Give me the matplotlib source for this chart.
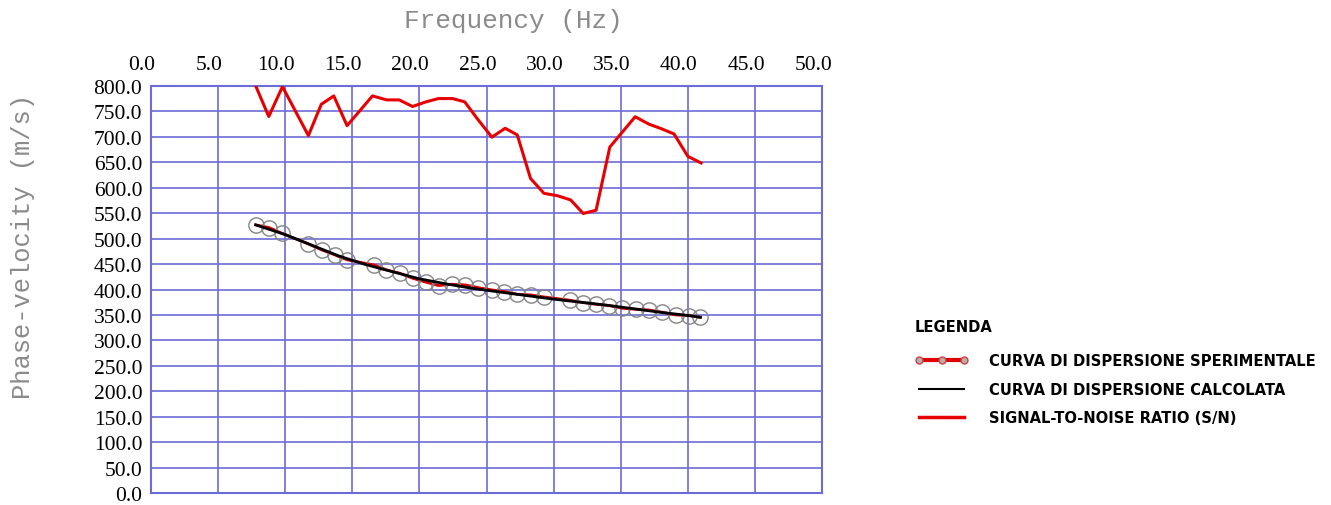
import matplotlib.pyplot as plt
import matplotlib.transforms as mtransforms
from matplotlib.lines import Line2D
import numpy as np

# experimental dispersion curve (Hz, m/s)
freq_exp = [7.82, 8.81, 9.75, 11.73, 12.72, 13.71, 14.63, 16.61, 17.55, 18.54,
            19.50, 20.49, 21.44, 22.43, 23.42, 24.36, 25.40, 26.34, 27.30, 28.29,
            29.28, 31.21, 32.20, 33.14, 34.13, 35.12, 36.11, 37.10, 38.09, 39.08,
            40.07, 40.92]
vel_exp = [527.0, 521.8, 510.7, 489.7, 477.9, 468.0, 458.2, 448.4, 438.5, 432.0,
           422.1, 414.3, 407.7, 410.3, 409.0, 403.8, 399.2, 395.9, 390.7, 389.4,
           385.4, 378.9, 374.3, 371.0, 368.4, 363.1, 361.2, 359.8, 355.3, 350.0,
           348.7, 345.4]

# computed dispersion curve
freq_calc = [7.82, 10.0, 12.0, 14.0, 16.0, 18.0, 20.0, 22.0, 24.0, 26.0,
             28.0, 30.0, 32.0, 34.0, 36.0, 38.0, 40.0, 40.92]
vel_calc = [527.0, 508.0, 487.0, 466.0, 449.0, 435.0, 421.0, 411.0, 402.0, 395.0,
            388.0, 381.0, 375.0, 369.0, 362.0, 355.0, 349.0, 345.4]

# signal-to-noise ratio, drawn on the velocity scale
freq_sn = [7.82, 8.79, 9.81, 11.74, 12.70, 13.63, 14.62, 16.51, 17.57, 18.50,
           19.50, 20.49, 21.42, 22.48, 23.38, 24.37, 25.40, 26.39, 27.29, 28.28,
           29.28, 30.27, 31.27, 32.20, 33.16, 34.18, 36.07, 37.07, 38.06, 38.96,
           39.99, 40.98]
sn_vals = [800.0, 740.0, 798.7, 702.6, 764.0, 780.5, 722.0, 780.5, 772.7, 772.7,
           759.7, 768.8, 775.3, 775.3, 768.8, 733.8, 699.4, 716.9, 703.9, 618.2,
           589.0, 584.4, 576.0, 549.4, 555.8, 679.9, 739.6, 725.3, 715.6, 705.8,
           661.7, 648.7]

x_ticks = np.arange(0, 50.1, 5.0)
y_ticks = np.arange(0, 800.1, 50.0)

grid_col = '#6c6cd8'
label_col = '#8a8a8a'

fig = plt.figure(figsize=(13.31, 5.06), dpi=100)
ax = fig.add_axes([150.7 / 1331, 12 / 506, 671.6 / 1331, 407 / 506])

ax.plot(freq_exp, vel_exp, color='#e00000', lw=2, zorder=3)
ax.plot(freq_exp, vel_exp, ls='none', marker='o', ms=11, mfc='none',
        mec='#858585', mew=1.0, zorder=4)
ax.plot(freq_calc, vel_calc, color='black', lw=2, zorder=5)
ax.plot(freq_sn, sn_vals, color='#e80000', lw=2.2, zorder=3)

ax.set_xlim(0, 50)
ax.set_ylim(0, 800)
ax.set_xticks(x_ticks)
ax.set_yticks(y_ticks)
ax.set_xticklabels([f'{v:.1f}' for v in x_ticks])
ax.set_yticklabels([f'{v:.1f}' for v in y_ticks])
ax.xaxis.tick_top()
ax.tick_params(length=0, labelsize=15.5, labelfontfamily='Liberation Serif')
ax.tick_params(axis='x', pad=9)
ax.tick_params(axis='y', pad=6)
ax.grid(True, color=grid_col, lw=1.2)
for s in ax.spines.values():
    s.set_color(grid_col)
    s.set_linewidth(1.5)

# x labels sit a little left of their grid lines
shift = mtransforms.ScaledTranslation(-9 / 100, 0, fig.dpi_scale_trans)
for lbl in ax.get_xticklabels():
    lbl.set_transform(lbl.get_transform() + shift)

fig.text(513 / 1331, 1 - 21 / 506, 'Frequency (Hz)', ha='center', va='center',
         family='Liberation Mono', fontsize=18.8, color=label_col)
fig.text(23 / 1331, 1 - 246.5 / 506, 'Phase-velocity (m/s)', ha='center', va='center',
         rotation=90, family='Liberation Mono', fontsize=18.4, color=label_col)

# legend: the experimental entry shows small dots along the line
handles = [
    Line2D([], [], color='#e00000', lw=3, marker='o', ms=5, mfc='#b0b0b0',
           mec='#d04040'),
    Line2D([], [], color='black', lw=1.5),
    Line2D([], [], color='#e80000', lw=2.5),
]
labels = ['CURVA DI DISPERSIONE SPERIMENTALE', 'CURVA DI DISPERSIONE CALCOLATA',
          'SIGNAL-TO-NOISE RATIO (S/N)']
legend_font = {'family': 'DejaVu Sans', 'weight': 'bold', 'size': 10.6}
leg = fig.legend(handles, labels, loc='upper left',
                 bbox_to_anchor=(915 / 1331, 1 - 320 / 506),
                 frameon=False, title='LEGENDA', alignment='left', numpoints=3,
                 prop=legend_font, title_fontproperties=legend_font,
                 handlelength=3.6, handletextpad=1.45, labelspacing=0.9,
                 borderpad=0, borderaxespad=0)
leg._legend_box.sep = 14

fig.savefig('out.png', dpi=100)
